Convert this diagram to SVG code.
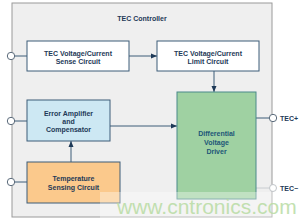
<svg xmlns="http://www.w3.org/2000/svg" width="300" height="222" viewBox="0 0 300 222">
<defs>
<style>
.box{stroke:#3d5c78;stroke-width:1}
.t{font-family:"Liberation Sans",Arial,sans-serif;font-weight:bold;font-size:7px;fill:#1e3957;text-anchor:middle}
.tg{font-family:"Liberation Sans",Arial,sans-serif;font-weight:bold;font-size:7px;fill:#1d5677;text-anchor:middle}
.w{stroke:#3d5c78;stroke-width:1;fill:none}
.pin{fill:#fff;stroke:#5a6a7a;stroke-width:1}
</style>
<marker id="ah" viewBox="0 0 6 6" refX="6" refY="3" markerWidth="6" markerHeight="6" orient="auto" markerUnits="userSpaceOnUse">
<path d="M0,0.5 L6,3 L0,5.5 Z" fill="#1e3957"/>
</marker>
</defs>
<rect x="0" y="0" width="300" height="222" fill="#fff"/>
<g id="controller">
<rect x="12" y="3" width="260" height="214" fill="#efefef" stroke="#9a9a9a" stroke-width="1"/>
<text class="t" x="142" y="21">TEC Controller</text>
</g>
<g id="connectors">
<line class="w" x1="15" y1="56" x2="27" y2="56"/>
<line class="w" x1="15" y1="121" x2="27" y2="121"/>
<line class="w" x1="15" y1="182" x2="27" y2="182"/>
<line class="w" x1="129" y1="56" x2="157" y2="56" marker-end="url(#ah)"/>
<line class="w" x1="214" y1="71" x2="214" y2="92" marker-end="url(#ah)"/>
<line class="w" x1="110" y1="126" x2="177" y2="126" marker-end="url(#ah)"/>
<line class="w" x1="71" y1="162" x2="71" y2="141" marker-end="url(#ah)"/>
<line class="w" x1="256" y1="118" x2="269" y2="118"/>
<line x1="256" y1="188" x2="269" y2="188" stroke="#c8ccd0" stroke-width="1"/>
<circle class="pin" cx="11" cy="56" r="3.7"/>
<circle class="pin" cx="11" cy="121" r="3.7"/>
<circle class="pin" cx="11" cy="182" r="3.7"/>
<circle class="pin" cx="273" cy="118" r="3.7"/>
<circle cx="273" cy="188" r="3.5" fill="#fff" stroke="#c0c4c8" stroke-width="1"/>
</g>
<g id="sense">
<rect class="box" x="27" y="41" width="102" height="30" fill="#fff"/>
<text class="t" x="78" y="55.5">TEC Voltage/Current</text>
<text class="t" x="78" y="63.5">Sense Circuit</text>
</g>
<g id="limit">
<rect class="box" x="157" y="41" width="102" height="30" fill="#fff"/>
<text class="t" x="208" y="55.5">TEC Voltage/Current</text>
<text class="t" x="208" y="63.5">Limit Circuit</text>
</g>
<g id="erramp">
<rect class="box" x="27" y="100" width="83" height="41" fill="#cde8f3"/>
<text class="t" x="68.5" y="115.5">Error Amplifier</text>
<text class="t" x="68.5" y="123.5">and</text>
<text class="t" x="68.5" y="132">Compensator</text>
</g>
<g id="temp">
<rect class="box" x="27" y="162" width="93" height="41" fill="#fbc98c"/>
<text class="t" x="73.5" y="181">Temperature</text>
<text class="t" x="73.5" y="190">Sensing Circuit</text>
</g>
<g id="driver">
<rect x="177" y="92" width="79" height="107" fill="#9fd1a2" stroke="#4a8a8a" stroke-width="1"/>
<text class="tg" x="216.5" y="136">Differential</text>
<text class="tg" x="216.5" y="145">Voltage</text>
<text class="tg" x="216.5" y="154">Driver</text>
</g>
<g id="labels">
<text class="t" x="280" y="120.5" style="text-anchor:start">TEC+</text>
<text class="t" x="280" y="190.5" style="text-anchor:start">TEC−</text>
</g>
<g id="watermark">
<rect x="100" y="192" width="200" height="30" fill="#fff" opacity="0.35"/>
<text x="117" y="214" font-family="Liberation Sans,Arial,sans-serif" font-size="21" fill="#b9dca4" opacity="0.85">www.cntronics.com</text>
</g>
</svg>
